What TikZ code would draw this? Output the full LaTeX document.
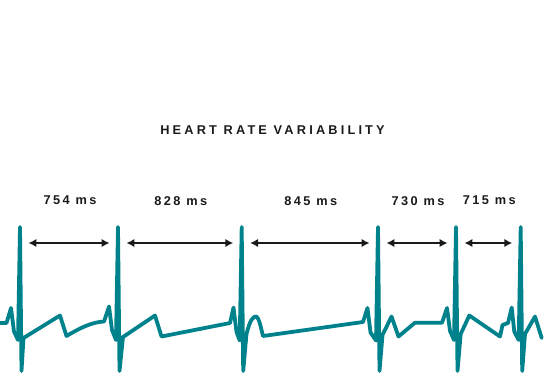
\documentclass[tikz,border=0pt]{standalone}
\usepackage{fontspec}
\usetikzlibrary{arrows.meta}
\setmainfont{Liberation Sans}
\newfontfamily\hrvHeadFont[LetterSpace=25]{Liberation Sans Bold}
\newfontfamily\hrvLabelFont[LetterSpace=19]{Liberation Sans Bold}
\definecolor{hrvTeal}{HTML}{00828C}
\definecolor{hrvInk}{HTML}{1A1A1A}
\tikzset{
  trace/.style={
    draw=hrvTeal,
    line width=3.8pt,
    line join=round,
    line cap=round
  },
  interval/.style={
    {Latex[length=8pt,width=8.5pt]}-{Latex[length=8pt,width=8.5pt]},
    line width=2pt,
    draw=hrvInk,
    shorten <=8.5pt,
    shorten >=8.5pt
  },
  msLabel/.style={
    font=\hrvLabelFont\fontsize{12.8}{14}\selectfont,
    text=hrvInk,
    inner sep=0pt,
    yshift=42.5pt,
    xshift=1pt
  },
  heading/.style={
    font=\hrvHeadFont\fontsize{12.8}{14}\selectfont,
    text=hrvInk,
    inner sep=0pt
  }
}

\begin{document}
\begin{tikzpicture}[x=1bp,y=-1bp]
  \useasboundingbox (0,0) rectangle (545,380);

  \node[heading] (title) at (272.5,130.5) {HEART RATE VARIABILITY};

  % R peaks
  \foreach \i/\x in {1/20,2/118,3/241.7,4/378,5/456,6/520.7}{
    \coordinate (r\i) at (\x,243);
  }

  \foreach \a/\b/\ms in {1/2/754,2/3/828,3/4/845,4/5/730,5/6/715}{
    \draw[interval] (r\a) -- node[msLabel] (lab\a) {\ms\ ms} (r\b);
  }

  % ECG trace
  \draw[trace]
    (0,323) -- (6.5,323) -- (11,308) -- (14,331.5) -- (18,340)
    -- (20,227) -- (21.5,371) -- (23.5,338) -- (60,315.5) -- (66.5,336)
    .. controls (80,328) and (92,322) .. (104,321.5)
    -- (109,306.5) -- (112,330) -- (116,340)
    -- (118,227) -- (119.5,371) -- (123,337) -- (155,315.5) -- (161.5,336.5)
    -- (230,323) -- (233.5,307.5) -- (236.5,332) -- (239.7,340.5)
    -- (241.7,227) -- (243.2,371) -- (246.5,334)
    .. controls (250,320) and (253,316) .. (256.5,316.5)
    .. controls (259,318) and (261,328) .. (263,336)
    -- (363,322) -- (367.5,308) -- (370.5,332.5) -- (376,340.5)
    -- (378,227) -- (379.5,371) -- (382.5,335) -- (391.5,316.5) -- (398.5,336.5)
    -- (415,322.7) -- (442,322.7) -- (447,308) -- (450,331) -- (454,340)
    -- (456,227) -- (457.5,371) -- (460.7,334) -- (469.3,315.5) -- (500,336.5)
    -- (502.5,325) -- (508,323) -- (511.7,307.5) -- (514.3,331.7) -- (518.7,340)
    -- (520.7,227) -- (522.2,371) -- (525,334) -- (535,316.5) -- (541.7,338);
\end{tikzpicture}
\end{document}
